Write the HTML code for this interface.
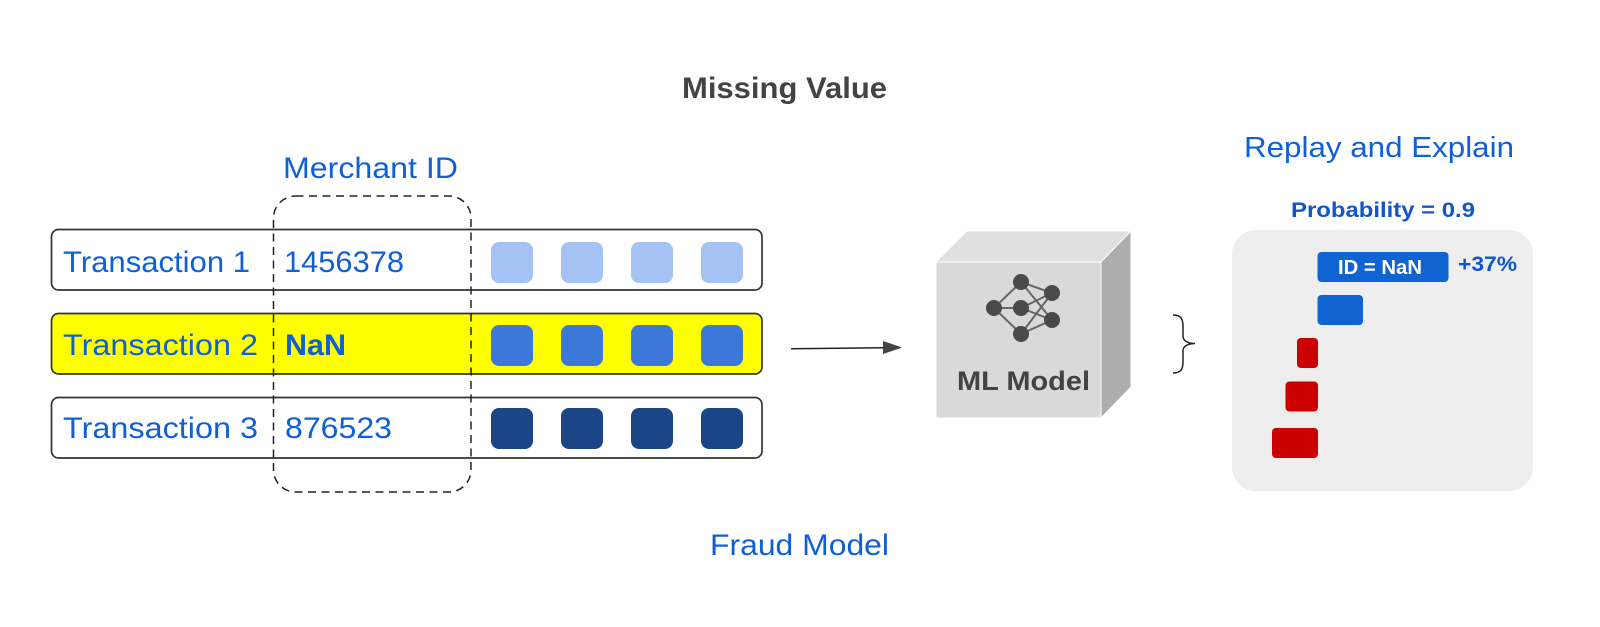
<!DOCTYPE html>
<html><head><meta charset="utf-8"><style>
html,body{margin:0;padding:0;background:#fff}
svg{display:block}
text{font-family:"Liberation Sans",sans-serif}
</style></head><body>
<svg width="1600" height="627" viewBox="0 0 1600 627" xmlns="http://www.w3.org/2000/svg">
<rect width="1600" height="627" fill="#fff"/>
<text x="682" y="98" font-size="30" font-weight="700" fill="#434343" textLength="205" lengthAdjust="spacingAndGlyphs">Missing Value</text>
<g font-size="30" fill="#0f5fd7">
<text x="283" y="178" textLength="175" lengthAdjust="spacingAndGlyphs">Merchant ID</text>
<text x="1244" y="157" font-size="29" textLength="270" lengthAdjust="spacingAndGlyphs">Replay and Explain</text>
<text x="710" y="555" textLength="179" lengthAdjust="spacingAndGlyphs">Fraud Model</text>
</g>
<g stroke="#333" stroke-width="1.700">
<rect x="51.500" y="229.500" width="710.500" height="60.500" rx="7" fill="#fff"/>
<rect x="51.500" y="313.500" width="710.500" height="60.500" rx="7" fill="#ffff00"/>
<rect x="51.500" y="397.500" width="710.500" height="60.500" rx="7" fill="#fff"/>
</g>
<g font-size="30" fill="#0f5fd7">
<text x="63" y="272" textLength="187" lengthAdjust="spacingAndGlyphs">Transaction 1</text>
<text x="63" y="355" textLength="195" lengthAdjust="spacingAndGlyphs">Transaction 2</text>
<text x="63" y="438" textLength="195" lengthAdjust="spacingAndGlyphs">Transaction 3</text>
<text x="284" y="272" textLength="120" lengthAdjust="spacingAndGlyphs">1456378</text>
<text x="285" y="355" font-weight="700" textLength="61" lengthAdjust="spacingAndGlyphs">NaN</text>
<text x="285" y="438" textLength="107" lengthAdjust="spacingAndGlyphs">876523</text>
</g>
<g fill="#a4c2f4">
<rect x="491" y="242" width="42" height="41" rx="8"/><rect x="561" y="242" width="42" height="41" rx="8"/><rect x="631" y="242" width="42" height="41" rx="8"/><rect x="701" y="242" width="42" height="41" rx="8"/>
</g>
<g fill="#3c78d8">
<rect x="491" y="325" width="42" height="41" rx="8"/><rect x="561" y="325" width="42" height="41" rx="8"/><rect x="631" y="325" width="42" height="41" rx="8"/><rect x="701" y="325" width="42" height="41" rx="8"/>
</g>
<g fill="#1c4587">
<rect x="491" y="408" width="42" height="41" rx="8"/><rect x="561" y="408" width="42" height="41" rx="8"/><rect x="631" y="408" width="42" height="41" rx="8"/><rect x="701" y="408" width="42" height="41" rx="8"/>
</g>
<rect x="273.500" y="196" width="197.500" height="296" rx="22" fill="none" stroke="#222" stroke-width="1.500" stroke-dasharray="8 5.500"/>
<line x1="791" y1="348.700" x2="885" y2="347.800" stroke="#222" stroke-width="1.500"/>
<polygon points="902,347.500 883,341 883,354" fill="#434343"/>
<polygon points="936,262 967,231 1131,231 1101,262" fill="#e0e0e0" stroke="#fff" stroke-width="1"/>
<polygon points="1101,262 1131,231 1131,387 1101,418" fill="#adadad" stroke="#fff" stroke-width="1"/>
<rect x="936" y="262" width="165" height="156" fill="#d9d9d9" stroke="#fff" stroke-width="1"/>
<g stroke="#666" stroke-width="2" fill="none">
<path d="M994 308L1021 282L1052 293L1021 334L994 308L1021 308L1052 320L1021 282M1021 308L1052 293M1021 334L1052 320"/>
</g>
<g fill="#4a4a4a">
<circle cx="1021" cy="282" r="8"/><circle cx="1052" cy="293" r="8"/><circle cx="994" cy="308" r="8"/><circle cx="1021" cy="308" r="8"/><circle cx="1052" cy="320" r="8"/><circle cx="1021" cy="334" r="8"/>
</g>
<text x="957" y="390" font-size="27" font-weight="700" fill="#434343" textLength="133" lengthAdjust="spacingAndGlyphs">ML Model</text>
<path d="M1173 315C1180 315 1183 318 1183 326L1183 336C1183 341 1188 343.500 1195 343.500C1188 343.500 1183 346 1183 351L1183 362C1183 370 1180 373 1173 373" fill="none" stroke="#222" stroke-width="1.500"/>
<text x="1291" y="217" font-size="21" font-weight="700" fill="#1155cc" textLength="184" lengthAdjust="spacingAndGlyphs">Probability = 0.9</text>
<rect x="1232" y="230" width="301" height="261" rx="24" fill="#eeeeee"/>
<rect x="1317.500" y="252" width="131" height="30" rx="4" fill="#1064d2"/>
<rect x="1317.500" y="295" width="45.500" height="30" rx="4" fill="#1064d2"/>
<rect x="1297" y="338" width="21" height="30" rx="4" fill="#cc0000"/>
<rect x="1285.500" y="381.500" width="32.500" height="30" rx="4" fill="#cc0000"/>
<rect x="1272" y="428" width="46" height="30" rx="4" fill="#cc0000"/>
<text x="1338" y="274" font-size="20" font-weight="700" fill="#fff" textLength="84" lengthAdjust="spacingAndGlyphs">ID = NaN</text>
<text x="1458" y="271" font-size="21" font-weight="700" fill="#1155cc" textLength="59" lengthAdjust="spacingAndGlyphs">+37%</text>
</svg>
</body></html>
